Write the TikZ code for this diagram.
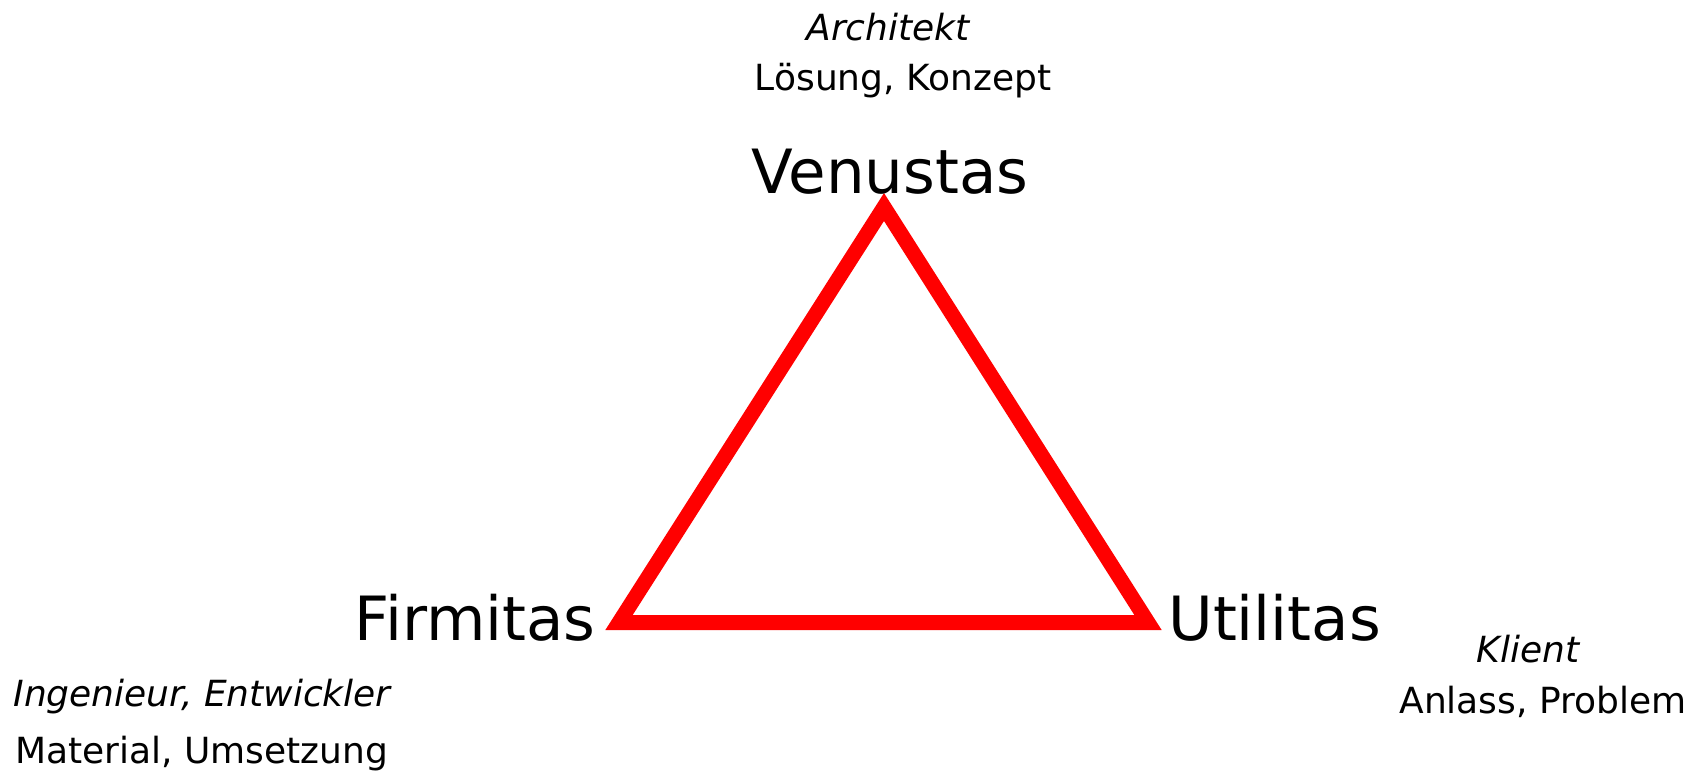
\documentclass[tikz,border=0pt]{standalone}
\usepackage{fontspec}
\setmainfont{DejaVu Sans}
\begin{document}
\begin{tikzpicture}[x=0.5pt, y=-0.5pt, line join=miter,
    big/.style={inner sep=0pt, font=\fontsize{30.5}{36}\selectfont},
    small/.style={inner sep=0pt, font=\fontsize{18}{22}\selectfont},
    role/.style={small, font=\fontsize{18}{22}\selectfont\itshape}]
  \useasboundingbox (0,0) rectangle (1702,771);
  \coordinate (ven) at (884,207);
  \coordinate (fir) at (619,622.5);
  \coordinate (uti) at (1148,622.5);
  \draw[red, line width=7.5pt] (ven) -- (fir) -- (uti) -- cycle;
  \node[role, anchor=base] (arch) at (888,40) {Architekt};
  \node[small, anchor=base] (loes) at (903,90) {Lösung, Konzept};
  \node[big, anchor=base] (venus) at (890,193) {Venustas};
  \node[big, anchor=base east] (firm) at (596,640) {Firmitas};
  \node[big, anchor=base west] (util) at (1168,640) {Utilitas};
  \node[role, anchor=base west] (ing) at (13,706) {Ingenieur, Entwickler};
  \node[small, anchor=base west] (mat) at (15,763) {Material, Umsetzung};
  \node[role, anchor=base] (kli) at (1528,662) {Klient};
  \node[small, anchor=base] (anl) at (1543,713) {Anlass, Problem};
\end{tikzpicture}
\end{document}
